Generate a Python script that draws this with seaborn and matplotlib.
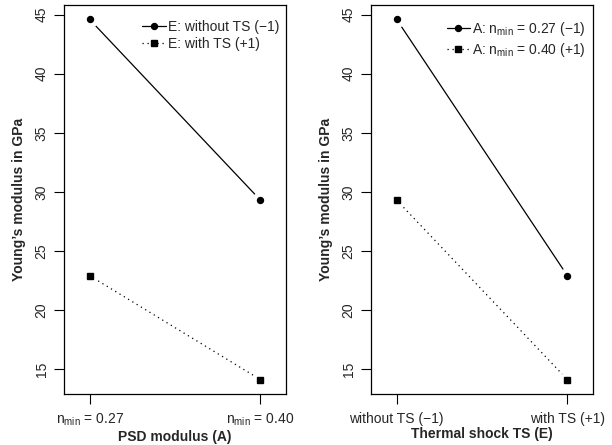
import matplotlib
matplotlib.use("Agg")
import matplotlib.pyplot as plt
from matplotlib.lines import Line2D
import seaborn as sns
import pandas as pd

sns.set_theme(style="white")
plt.rcParams["font.family"] = ["Liberation Sans", "DejaVu Sans"]
plt.rcParams["mathtext.fontset"] = "custom"
plt.rcParams["mathtext.rm"] = "Liberation Sans"
plt.rcParams["mathtext.it"] = "Liberation Sans"

MINUS = "\u2212"
# ---- data ----
a_levels = [r"n$_{\mathrm{min}}$ = 0.27", r"n$_{\mathrm{min}}$ = 0.40"]
e_levels = ["without TS (" + MINUS + "1)", "with TS (+1)"]
# Young's modulus (GPa) for (A level, E level)
a027_without, a027_with = 44.6, 22.9
a040_without, a040_with = 29.3, 14.1
e_without = [a027_without, a040_without]   # over A levels
e_with = [a027_with, a040_with]
a_027 = [a027_without, a027_with]          # over E levels
a_040 = [a040_without, a040_with]

left_legend = ["E: without TS (" + MINUS + "1)", "E: with TS (+1)"]
right_legend = [r"A: n$_{\mathrm{min}}$ = 0.27 (" + MINUS + "1)",
                r"A: n$_{\mathrm{min}}$ = 0.40 (+1)"]
xlabels = ["PSD modulus (A)", "Thermal shock TS (E)"]
ylabel = "Young\u2019s modulus in GPa"
yticks = [15, 20, 25, 30, 35, 40, 45]

FS = 10
fig = plt.figure(figsize=(6.12, 4.45), dpi=100)
W, H = 612, 445
def ax_at(x0, x1, y0, y1):
    return fig.add_axes([x0 / W, 1 - y1 / H, (x1 - x0) / W, (y1 - y0) / H])

ax1 = ax_at(64, 286, 5, 394)
ax2 = ax_at(371, 593, 5, 394)

styles = [dict(ls="-", marker="o", ms=4.3), dict(ls=(0, (1, 3)), marker="s", ms=4.6)]

def panel(ax, series, ticklabels, legend_labels, xlabel):
    rows = []
    for name, vals in series:
        for i, v in enumerate(vals):
            rows.append({"x": i + 1, "y": v, "g": name})
    df = pd.DataFrame(rows)
    for k, (name, vals) in enumerate(series):
        sub = df[df.g == name]
        sns.lineplot(data=sub, x="x", y="y", ax=ax, color="black",
                     linestyle=styles[k]["ls"], lw=0.9, legend=False)
        # white halo to mimic R type="b" gaps
        ax.plot(sub.x, sub.y, ls="none", marker="o", ms=11, mfc="white",
                mec="white", zorder=3)
        ax.plot(sub.x, sub.y, ls="none", marker=styles[k]["marker"],
                ms=styles[k]["ms"], mfc="black", mec="black", zorder=4)
    ax.set_xlim(0.85, 2.15)
    ax.set_ylim(12.88, 45.82)
    ax.set_xticks([1, 2])
    ax.set_xticklabels(ticklabels, fontsize=FS)
    ax.set_yticks(yticks)
    ax.set_yticklabels([str(t) for t in yticks], fontsize=FS, rotation=90, va="center")
    ax.tick_params(direction="out", length=7, width=0.8, color="black",
                   bottom=True, left=True)
    ax.tick_params(axis="x", pad=6)
    ax.tick_params(axis="y", pad=4)
    for s in ax.spines.values():
        s.set_color("black")
        s.set_linewidth(0.9)
    ax.set_xlabel(xlabel, fontsize=FS, fontweight="bold", labelpad=1)
    ax.set_ylabel(ylabel, fontsize=FS, fontweight="bold", labelpad=6)
    handles = [Line2D([0], [0], color="black", lw=0.9, ls=styles[k]["ls"],
                      marker=styles[k]["marker"], ms=styles[k]["ms"])
               for k in range(2)]
    ax.legend(handles, legend_labels, loc="upper right", frameon=False,
              bbox_to_anchor=(1.0, 0.98),
              fontsize=FS, handlelength=1.7, handletextpad=0.15,
              labelspacing=0.25, borderaxespad=0.2, borderpad=0.3)

panel(ax1, [("without", e_without), ("with", e_with)], a_levels, left_legend, xlabels[0])
panel(ax2, [("a027", a_027), ("a040", a_040)], e_levels, right_legend, xlabels[1])

fig.savefig("out.png", dpi=100)
